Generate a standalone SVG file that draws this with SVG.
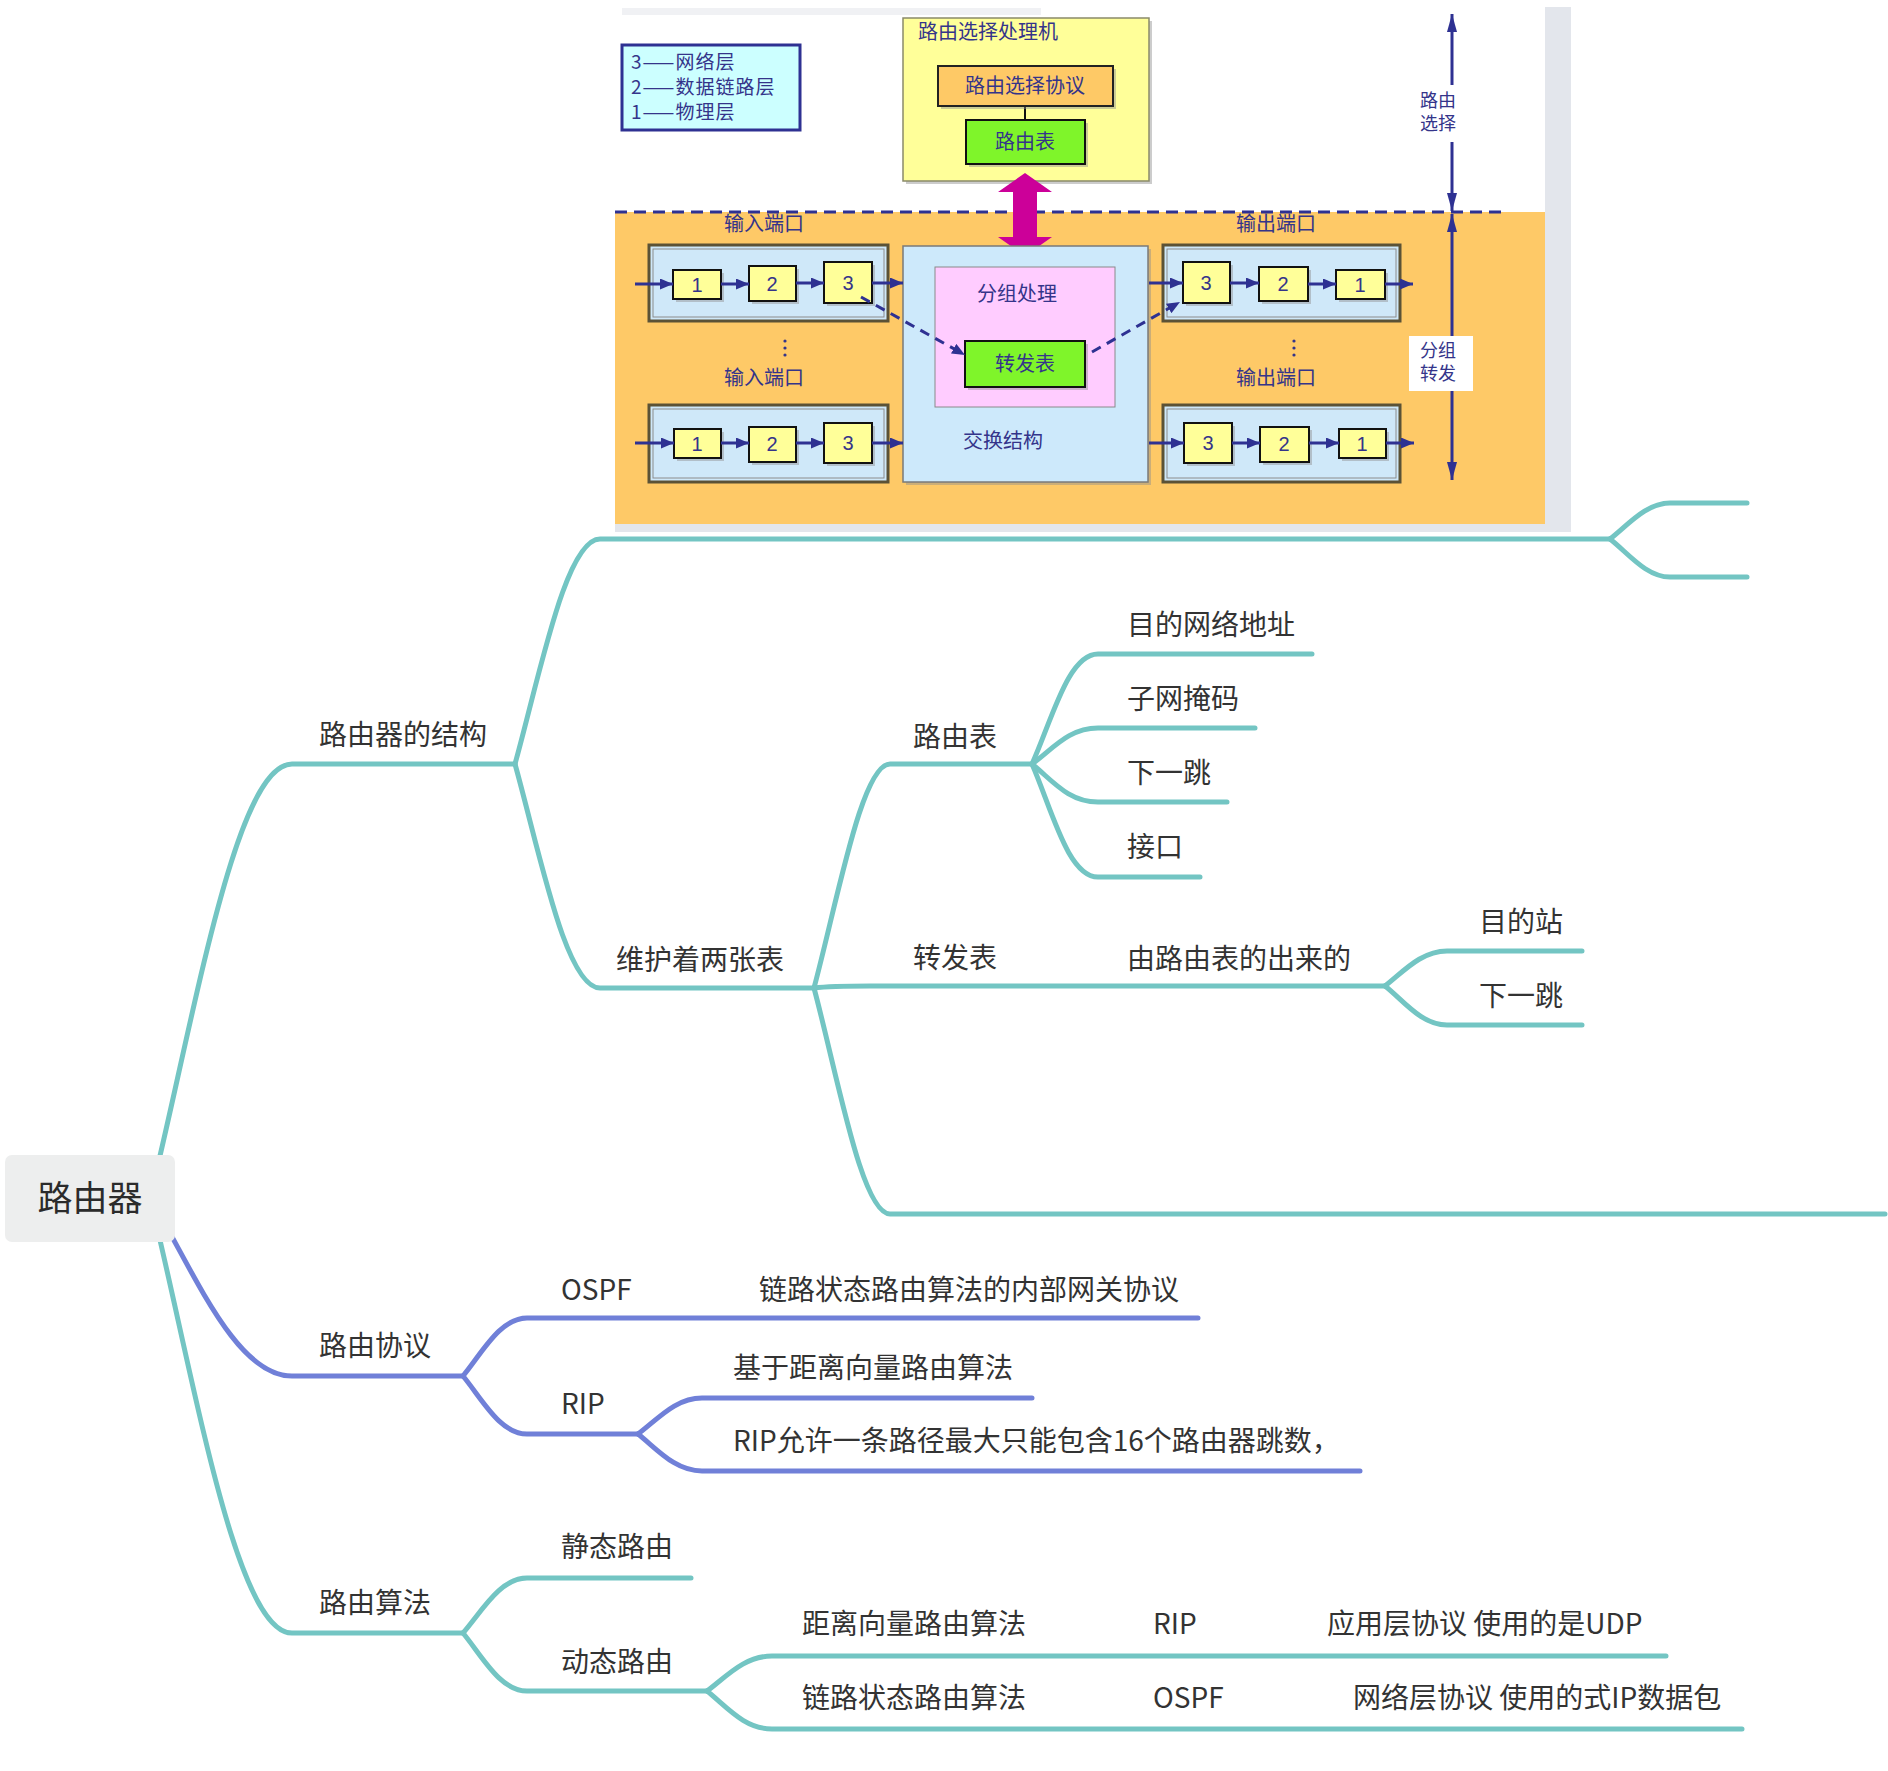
<svg xmlns="http://www.w3.org/2000/svg" width="1888" height="1771" viewBox="0 0 1888 1771">
<style>
.mm{font-family:"Noto Sans CJK SC","Noto Sans",sans-serif;font-size:28px;fill:#333333}
.root{font-family:"Noto Sans CJK SC","Noto Sans",sans-serif;font-size:35px;fill:#2b2b2b}
.pt{font-family:"Noto Sans CJK SC","Noto Sans",sans-serif;font-size:20px;fill:#34348a}
.lg{font-family:"Noto Sans CJK SC","Noto Sans",sans-serif;font-size:19px;letter-spacing:1px;fill:#34348a}
.sl{font-family:"Noto Sans CJK SC","Noto Sans",sans-serif;font-size:18px;fill:#34348a}
.pn{font-family:"Liberation Sans","Noto Sans",sans-serif;font-size:20px;fill:#34348a}
.teal{fill:none;stroke:#73c5c3;stroke-width:5;stroke-linecap:round;stroke-linejoin:round}
.purp{fill:none;stroke:#7080d8;stroke-width:5;stroke-linecap:round;stroke-linejoin:round}
.port{fill:#cfe8f9;stroke:#5b5236;stroke-width:3}
.porti{fill:none;stroke:#8c8c8c;stroke-width:1}
.yb{fill:#ffff99;stroke:#111;stroke-width:2}
.sh{fill:#8f8f8f;opacity:0.45}
.nav{stroke:#2e3192;stroke-width:3;fill:none}
</style>
<defs>
<marker id="ah" markerUnits="userSpaceOnUse" markerWidth="13" markerHeight="11" refX="13" refY="5.5" orient="auto">
<path d="M0,0 L13,5.5 L0,11 z" fill="#2e3192"/>
</marker>
<marker id="vh" markerUnits="userSpaceOnUse" markerWidth="18" markerHeight="10" refX="18" refY="5" orient="auto-start-reverse">
<path d="M0,0 L18,5 L0,10 z" fill="#2e3192"/>
</marker>
</defs>
<rect width="1888" height="1771" fill="#ffffff"/>

<g id="router-picture">
<rect x="622" y="8" width="419" height="7" fill="#f0f1f4"/>
<rect x="1545" y="7" width="26" height="525" fill="#e3e6ec"/>
<rect x="615" y="524" width="956" height="8" fill="#e3e6ec"/>
<rect x="615" y="212" width="930" height="312" fill="#fec967"/>
<line x1="615" y1="212" x2="1505" y2="212" stroke="#2e3192" stroke-width="3" stroke-dasharray="12 7"/>

<g id="legend">
<rect x="622" y="45" width="178" height="85" fill="#ccffff" stroke="#2e3192" stroke-width="3"/>
<text class="lg" x="631" y="69">3——网络层</text>
<text class="lg" x="631" y="94">2——数据链路层</text>
<text class="lg" x="631" y="119">1——物理层</text>
</g>

<g id="routing-processor">
<rect x="906" y="21" width="246" height="163" class="sh"/>
<rect x="903" y="18" width="246" height="163" fill="#ffff99" stroke="#8a8a6a" stroke-width="1.5"/>
<text class="pt" x="918" y="39">路由选择处理机</text>
<line x1="1025" y1="106" x2="1025" y2="120" stroke="#111" stroke-width="2"/>
<rect x="941" y="69" width="175" height="40" class="sh"/>
<rect x="938" y="66" width="175" height="40" fill="#fec966" stroke="#222" stroke-width="2"/>
<text class="pt" x="1025" y="93" text-anchor="middle">路由选择协议</text>
<rect x="969" y="123" width="119" height="44" class="sh"/>
<rect x="966" y="120" width="119" height="44" fill="#7ff52a" stroke="#111" stroke-width="2"/>
<text class="pt" x="1025" y="149" text-anchor="middle">路由表</text>
</g>

<polygon fill="#cc0099" points="1025,173 1052,192 1037,192 1037,237 1052,237 1025,256 998,237 1013,237 1013,192 998,192"/>

<g id="labels-ports">
<text class="pt" x="764" y="231" text-anchor="middle">输入端口</text>
<text class="pt" x="764" y="385" text-anchor="middle">输入端口</text>
<text class="pt" x="1276" y="231" text-anchor="middle">输出端口</text>
<text class="pt" x="1276" y="385" text-anchor="middle">输出端口</text>
<g fill="#34348a"><circle cx="785" cy="341" r="1.6"/><circle cx="785" cy="348" r="1.6"/><circle cx="785" cy="355" r="1.6"/>
<circle cx="1294" cy="341" r="1.6"/><circle cx="1294" cy="348" r="1.6"/><circle cx="1294" cy="355" r="1.6"/></g>
</g>

<g id="switch-fabric">
<rect x="906" y="249" width="245" height="236" class="sh"/>
<rect x="903" y="246" width="245" height="236" fill="#cde9fb" stroke="#7a7a7a" stroke-width="1.5"/>
<rect x="935" y="267" width="180" height="140" fill="#ffccff" stroke="#8a8a8a" stroke-width="1"/>
<text class="pt" x="1017" y="301" text-anchor="middle">分组处理</text>
<rect x="968" y="344" width="120" height="46" class="sh"/>
<rect x="965" y="341" width="120" height="46" fill="#7ff52a" stroke="#111" stroke-width="2"/>
<text class="pt" x="1025" y="371" text-anchor="middle">转发表</text>
<text class="pt" x="1003" y="448" text-anchor="middle">交换结构</text>
</g>

<g id="input-port-1">
<rect x="649" y="245" width="239" height="76" class="port"/>
<rect x="653" y="249" width="231" height="68" class="porti"/>
<rect x="676" y="273" width="48" height="29" class="sh"/><rect x="673" y="270" width="48" height="29" class="yb"/><text class="pn" x="697" y="292" text-anchor="middle">1</text>
<rect x="752" y="269" width="47" height="35" class="sh"/><rect x="749" y="266" width="47" height="35" class="yb"/><text class="pn" x="772" y="291" text-anchor="middle">2</text>
<rect x="827" y="265" width="48" height="41" class="sh"/><rect x="824" y="262" width="48" height="41" class="yb"/><text class="pn" x="848" y="290" text-anchor="middle">3</text>
</g>
<g id="input-port-2">
<rect x="649" y="405" width="239" height="77" class="port"/>
<rect x="653" y="409" width="231" height="69" class="porti"/>
<rect x="677" y="432" width="47" height="29" class="sh"/><rect x="674" y="429" width="47" height="29" class="yb"/><text class="pn" x="697" y="451" text-anchor="middle">1</text>
<rect x="752" y="430" width="47" height="35" class="sh"/><rect x="749" y="427" width="47" height="35" class="yb"/><text class="pn" x="772" y="451" text-anchor="middle">2</text>
<rect x="827" y="426" width="48" height="40" class="sh"/><rect x="824" y="423" width="48" height="40" class="yb"/><text class="pn" x="848" y="450" text-anchor="middle">3</text>
</g>
<g id="output-port-1">
<rect x="1163" y="245" width="237" height="76" class="port"/>
<rect x="1167" y="249" width="229" height="68" class="porti"/>
<rect x="1186" y="265" width="47" height="41" class="sh"/><rect x="1183" y="262" width="47" height="41" class="yb"/><text class="pn" x="1206" y="290" text-anchor="middle">3</text>
<rect x="1262" y="270" width="49" height="34" class="sh"/><rect x="1259" y="267" width="49" height="34" class="yb"/><text class="pn" x="1283" y="291" text-anchor="middle">2</text>
<rect x="1339" y="273" width="49" height="29" class="sh"/><rect x="1336" y="270" width="49" height="29" class="yb"/><text class="pn" x="1360" y="292" text-anchor="middle">1</text>
</g>
<g id="output-port-2">
<rect x="1163" y="405" width="237" height="77" class="port"/>
<rect x="1167" y="409" width="229" height="69" class="porti"/>
<rect x="1187" y="426" width="48" height="40" class="sh"/><rect x="1184" y="423" width="48" height="40" class="yb"/><text class="pn" x="1208" y="450" text-anchor="middle">3</text>
<rect x="1263" y="430" width="49" height="35" class="sh"/><rect x="1260" y="427" width="49" height="35" class="yb"/><text class="pn" x="1284" y="451" text-anchor="middle">2</text>
<rect x="1342" y="432" width="47" height="29" class="sh"/><rect x="1339" y="429" width="47" height="29" class="yb"/><text class="pn" x="1362" y="451" text-anchor="middle">1</text>
</g>

<g id="picture-arrows" class="nav">
<line x1="635" y1="284" x2="673" y2="284" marker-end="url(#ah)"/>
<line x1="721" y1="284" x2="749" y2="284" marker-end="url(#ah)"/>
<line x1="796" y1="283" x2="824" y2="283" marker-end="url(#ah)"/>
<line x1="872" y1="283" x2="903" y2="283" marker-end="url(#ah)"/>
<line x1="1149" y1="283" x2="1183" y2="283" marker-end="url(#ah)"/>
<line x1="1230" y1="283" x2="1259" y2="283" marker-end="url(#ah)"/>
<line x1="1308" y1="284" x2="1336" y2="284" marker-end="url(#ah)"/>
<line x1="1385" y1="284" x2="1413" y2="284" marker-end="url(#ah)"/>
<line x1="635" y1="443" x2="674" y2="443" marker-end="url(#ah)"/>
<line x1="721" y1="443" x2="749" y2="443" marker-end="url(#ah)"/>
<line x1="796" y1="443" x2="824" y2="443" marker-end="url(#ah)"/>
<line x1="872" y1="443" x2="903" y2="443" marker-end="url(#ah)"/>
<line x1="1149" y1="443" x2="1184" y2="443" marker-end="url(#ah)"/>
<line x1="1232" y1="443" x2="1260" y2="443" marker-end="url(#ah)"/>
<line x1="1309" y1="443" x2="1339" y2="443" marker-end="url(#ah)"/>
<line x1="1386" y1="443" x2="1414" y2="443" marker-end="url(#ah)"/>
<path d="M861,297 L965,355" stroke-dasharray="10 7" marker-end="url(#ah)"/>
<path d="M1092,352 L1180,302" stroke-dasharray="10 7" marker-end="url(#ah)"/>
<line x1="1452" y1="14" x2="1452" y2="211" marker-start="url(#vh)" marker-end="url(#vh)"/>
<line x1="1452" y1="214" x2="1452" y2="480" marker-start="url(#vh)" marker-end="url(#vh)"/>
</g>
<g id="side-labels">
<rect x="1420" y="85" width="64" height="57" fill="#ffffff"/>
<text class="sl" x="1438" y="107" text-anchor="middle">路由</text>
<text class="sl" x="1438" y="130" text-anchor="middle">选择</text>
<rect x="1409" y="336" width="64" height="55" fill="#ffffff"/>
<text class="sl" x="1438" y="357" text-anchor="middle">分组</text>
<text class="sl" x="1438" y="380" text-anchor="middle">转发</text>
</g>
</g>

<g id="connectors">
<path class="teal" d="M150,1198 C193,1024 235,764 292,764 L515,764"/>
<path class="purp" d="M150,1198 C193,1269 235,1376 292,1376 L463,1376"/>
<path class="teal" d="M150,1198 C193,1372 235,1633 292,1633 L463,1633"/>

<path class="teal" d="M515,764 C540,674 566,539 600,539 L1610,539"/>
<path class="teal" d="M1610,539 C1628,525 1646,503 1670,503 L1747,503"/>
<path class="teal" d="M1610,539 C1628,553 1646,577 1670,577 L1747,577"/>
<path class="teal" d="M515,764 C540,854 566,988 600,988 L814,988"/>

<path class="teal" d="M814,988 C838,898 862,764 890,764 L1032,764"/>
<path class="teal" d="M814,988 C830,986 850,986 870,986 L1385,986"/>
<path class="teal" d="M814,988 C838,1078 862,1214 890,1214 L1885,1214"/>

<path class="teal" d="M1032,764 C1052,720 1068,654 1098,654 L1312,654"/>
<path class="teal" d="M1032,764 C1052,750 1068,728 1098,728 L1255,728"/>
<path class="teal" d="M1032,764 C1052,780 1068,802 1098,802 L1227,802"/>
<path class="teal" d="M1032,764 C1052,810 1068,877 1098,877 L1200,877"/>

<path class="teal" d="M1385,986 C1403,972 1421,951 1447,951 L1582,951"/>
<path class="teal" d="M1385,986 C1403,1000 1421,1025 1447,1025 L1582,1025"/>

<path class="purp" d="M463,1376 C482,1353 500,1318 527,1318 L1198,1318"/>
<path class="purp" d="M463,1376 C482,1399 500,1434 527,1434 L638,1434"/>
<path class="purp" d="M638,1434 C657,1420 675,1398 702,1398 L1032,1398"/>
<path class="purp" d="M638,1434 C657,1449 675,1471 702,1471 L1360,1471"/>

<path class="teal" d="M463,1633 C482,1611 500,1578 527,1578 L691,1578"/>
<path class="teal" d="M463,1633 C482,1656 500,1691 527,1691 L707,1691"/>
<path class="teal" d="M707,1691 C726,1677 744,1656 772,1656 L1666,1656"/>
<path class="teal" d="M707,1691 C726,1706 744,1729 772,1729 L1742,1729"/>
</g>

<g id="n-root">
<rect x="5" y="1155" width="170" height="87" rx="7" fill="#edeeee"/>
<text class="root" x="90" y="1211" text-anchor="middle">路由器</text>
</g>
<g id="n-structure"><text class="mm" x="319" y="745">路由器的结构</text></g>
<g id="n-two-tables"><text class="mm" x="616" y="970">维护着两张表</text></g>
<g id="n-routing-table"><text class="mm" x="913" y="747">路由表</text></g>
<g id="n-dest-net"><text class="mm" x="1127" y="635">目的网络地址</text></g>
<g id="n-mask"><text class="mm" x="1127" y="709">子网掩码</text></g>
<g id="n-next-hop-1"><text class="mm" x="1127" y="783">下一跳</text></g>
<g id="n-interface"><text class="mm" x="1127" y="857">接口</text></g>
<g id="n-fwd-table"><text class="mm" x="913" y="968">转发表</text></g>
<g id="n-derived"><text class="mm" x="1127" y="969">由路由表的出来的</text></g>
<g id="n-dest-station"><text class="mm" x="1479" y="932">目的站</text></g>
<g id="n-next-hop-2"><text class="mm" x="1479" y="1006">下一跳</text></g>
<g id="n-protocol"><text class="mm" x="319" y="1356">路由协议</text></g>
<g id="n-ospf"><text class="mm" x="561" y="1300">OSPF</text></g>
<g id="n-ospf-desc"><text class="mm" x="759" y="1300">链路状态路由算法的内部网关协议</text></g>
<g id="n-rip"><text class="mm" x="561" y="1414">RIP</text></g>
<g id="n-rip-desc1"><text class="mm" x="733" y="1378">基于距离向量路由算法</text></g>
<g id="n-rip-desc2"><text class="mm" x="733" y="1451">RIP允许一条路径最大只能包含16个路由器跳数，</text></g>
<g id="n-algorithm"><text class="mm" x="319" y="1613">路由算法</text></g>
<g id="n-static"><text class="mm" x="561" y="1557">静态路由</text></g>
<g id="n-dynamic"><text class="mm" x="561" y="1672">动态路由</text></g>
<g id="n-dv"><text class="mm" x="802" y="1634">距离向量路由算法</text></g>
<g id="n-dv-rip"><text class="mm" x="1153" y="1634">RIP</text></g>
<g id="n-dv-udp"><text class="mm" x="1327" y="1634">应用层协议 使用的是UDP</text></g>
<g id="n-ls"><text class="mm" x="802" y="1708">链路状态路由算法</text></g>
<g id="n-ls-ospf"><text class="mm" x="1153" y="1708">OSPF</text></g>
<g id="n-ls-ip"><text class="mm" x="1353" y="1708">网络层协议 使用的式IP数据包</text></g>
</svg>
